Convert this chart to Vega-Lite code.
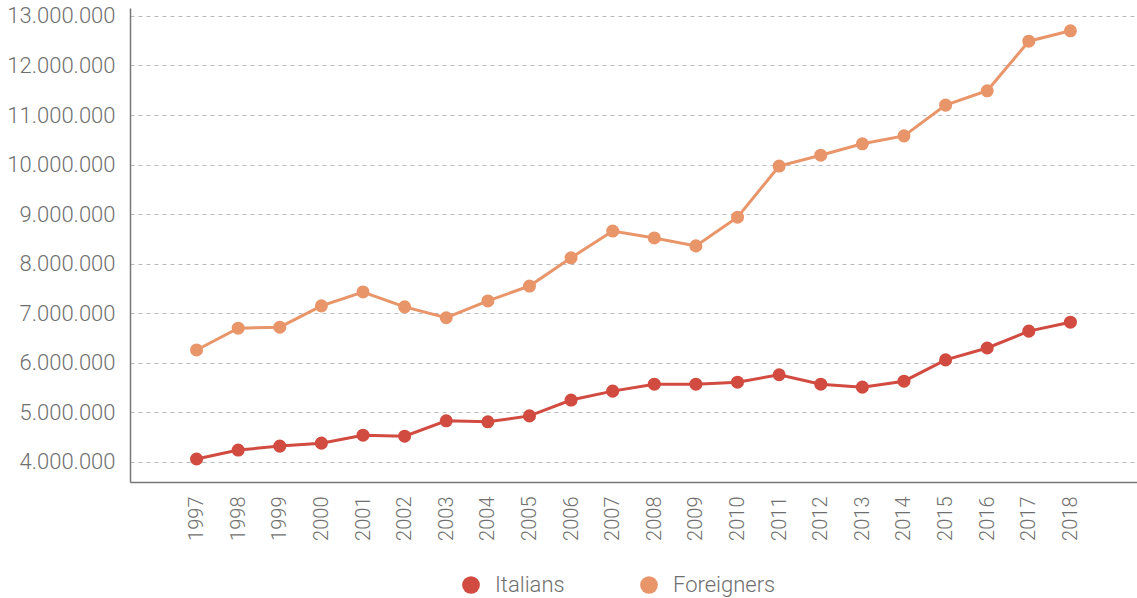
{
  "$schema": "https://vega.github.io/schema/vega-lite/v6.json",
  "autosize": {"type": "none"},
  "width": 1007,
  "height": 474,
  "padding": {"left": 130, "top": 8, "right": 0, "bottom": 116},
  "background": "white",
  "config": {
    "locale": {"number": {"decimal": ",", "thousands": ".", "grouping": [3], "currency": ["€", ""]}},
    "font": "Roboto",
    "view": {"stroke": null}
  },
  "data": {
    "values": [
      {"year": 1997, "group": "Italians", "value": 4060000},
      {"year": 1998, "group": "Italians", "value": 4240000},
      {"year": 1999, "group": "Italians", "value": 4320000},
      {"year": 2000, "group": "Italians", "value": 4380000},
      {"year": 2001, "group": "Italians", "value": 4540000},
      {"year": 2002, "group": "Italians", "value": 4520000},
      {"year": 2003, "group": "Italians", "value": 4830000},
      {"year": 2004, "group": "Italians", "value": 4810000},
      {"year": 2005, "group": "Italians", "value": 4930000},
      {"year": 2006, "group": "Italians", "value": 5250000},
      {"year": 2007, "group": "Italians", "value": 5430000},
      {"year": 2008, "group": "Italians", "value": 5570000},
      {"year": 2009, "group": "Italians", "value": 5570000},
      {"year": 2010, "group": "Italians", "value": 5610000},
      {"year": 2011, "group": "Italians", "value": 5760000},
      {"year": 2012, "group": "Italians", "value": 5570000},
      {"year": 2013, "group": "Italians", "value": 5510000},
      {"year": 2014, "group": "Italians", "value": 5630000},
      {"year": 2015, "group": "Italians", "value": 6060000},
      {"year": 2016, "group": "Italians", "value": 6300000},
      {"year": 2017, "group": "Italians", "value": 6640000},
      {"year": 2018, "group": "Italians", "value": 6820000},
      {"year": 1997, "group": "Foreigners", "value": 6260000},
      {"year": 1998, "group": "Foreigners", "value": 6700000},
      {"year": 1999, "group": "Foreigners", "value": 6720000},
      {"year": 2000, "group": "Foreigners", "value": 7150000},
      {"year": 2001, "group": "Foreigners", "value": 7430000},
      {"year": 2002, "group": "Foreigners", "value": 7130000},
      {"year": 2003, "group": "Foreigners", "value": 6910000},
      {"year": 2004, "group": "Foreigners", "value": 7250000},
      {"year": 2005, "group": "Foreigners", "value": 7550000},
      {"year": 2006, "group": "Foreigners", "value": 8120000},
      {"year": 2007, "group": "Foreigners", "value": 8660000},
      {"year": 2008, "group": "Foreigners", "value": 8520000},
      {"year": 2009, "group": "Foreigners", "value": 8360000},
      {"year": 2010, "group": "Foreigners", "value": 8940000},
      {"year": 2011, "group": "Foreigners", "value": 9970000},
      {"year": 2012, "group": "Foreigners", "value": 10190000},
      {"year": 2013, "group": "Foreigners", "value": 10420000},
      {"year": 2014, "group": "Foreigners", "value": 10580000},
      {"year": 2015, "group": "Foreigners", "value": 11200000},
      {"year": 2016, "group": "Foreigners", "value": 11490000},
      {"year": 2017, "group": "Foreigners", "value": 12490000},
      {"year": 2018, "group": "Foreigners", "value": 12700000}
    ]
  },
  "encoding": {
    "x": {
      "field": "year", "type": "quantitative",
      "scale": {"domain": [1995.4, 2019.6], "nice": false, "zero": false},
      "axis": {
        "title": null, "labelAngle": -90, "labelFontSize": 20, "labelFont": "Roboto", "labelFontWeight": 300,
        "labelColor": "#6f6f6f", "ticks": false, "labelPadding": 14, "format": "d",
        "values": [1997, 1998, 1999, 2000, 2001, 2002, 2003, 2004, 2005, 2006, 2007, 2008, 2009, 2010, 2011, 2012, 2013, 2014, 2015, 2016, 2017, 2018],
        "labelOverlap": false, "labelFlush": false,
        "domainColor": "#777777", "domainWidth": 1.5, "grid": false
      }
    },
    "y": {
      "field": "value", "type": "quantitative",
      "scale": {"domain": [3596000, 13160000], "nice": false, "zero": false},
      "axis": {
        "title": null, "values": [4000000, 5000000, 6000000, 7000000, 8000000, 9000000, 10000000, 11000000, 12000000, 13000000],
        "format": ",d", "labelFontSize": 22, "labelFont": "Roboto", "labelFontWeight": 300, "labelColor": "#6f6f6f",
        "ticks": false, "labelPadding": 15, "domainColor": "#777777", "domainWidth": 1.5,
        "grid": true, "gridColor": "#bbbbbb", "gridDash": [4, 4], "gridWidth": 1
      }
    },
    "color": {
      "field": "group", "type": "nominal",
      "scale": {"domain": ["Italians", "Foreigners"], "range": ["#d14b41", "#e9956a"]},
      "legend": {
        "title": null, "orient": "none", "legendX": 330, "legendY": 566, "direction": "horizontal", "padding": 0,
        "labelFontSize": 22, "labelFont": "Roboto", "labelFontWeight": 300, "labelColor": "#6f6f6f",
        "symbolType": "circle", "symbolSize": 314, "symbolStrokeWidth": 0, "symbolOpacity": 1,
        "columnPadding": 73, "labelOffset": 13
      }
    }
  },
  "layer": [
    {"mark": {"type": "line", "strokeWidth": 3}},
    {"mark": {"type": "circle", "size": 170, "opacity": 1}}
  ]
}
